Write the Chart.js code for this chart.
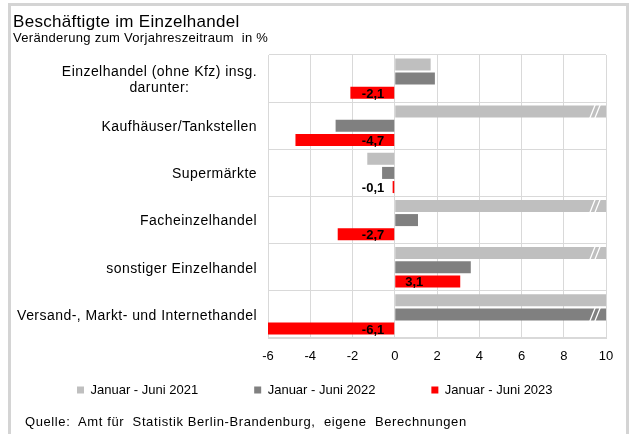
<!DOCTYPE html>
<html><head><meta charset="utf-8">
<script src="https://cdn.jsdelivr.net/npm/chart.js@4/dist/chart.umd.min.js"></script>
<style>
html,body{margin:0;padding:0;background:#fff;}
#wrap{position:relative;width:634px;height:434px;overflow:hidden;font-family:"Liberation Sans",Arial,sans-serif;color:#000;}
#frame{position:absolute;left:8px;top:3px;width:615px;height:500px;border:3px solid #d4d4d4;border-bottom:none;}
canvas{position:absolute;left:0;top:0;}
.t{position:absolute;white-space:pre;}
</style></head><body>
<div id="wrap">
<div id="frame"></div>
<canvas id="c" width="634" height="434"></canvas>
<div class="t" style="left:13px;top:13px;font-size:17px;line-height:17px;letter-spacing:0.3px;">Beschäftigte im Einzelhandel</div>
<div class="t" style="left:13px;top:31px;font-size:13px;line-height:13px;letter-spacing:0.3px;">Veränderung zum Vorjahreszeitraum  in %</div>
<div class="t" style="left:25px;top:415px;font-size:13px;line-height:13px;letter-spacing:0.6px;">Quelle:  Amt für  Statistik Berlin-Brandenburg,  eigene  Berechnungen</div>
</div>
<script>
const categories = [
  ["Einzelhandel (ohne Kfz) insg.", "darunter:"],
  ["Kaufhäuser/Tankstellen"],
  ["Supermärkte"],
  ["Facheinzelhandel"],
  ["sonstiger Einzelhandel"],
  ["Versand-, Markt- und Internethandel"]
];
const seriesNames = ["Januar - Juni 2021", "Januar - Juni 2022", "Januar - Juni 2023"];
// values above 10 run off the axis (shown with a break mark)
const values2021 = [1.7, 11, -1.3, 11, 11, 10];
const values2022 = [1.9, -2.8, -0.6, 1.1, 3.6, 11];
const values2023 = [-2.1, -4.7, -0.1, -2.7, 3.1, -6.1];
const xTickValues = [-6, -4, -2, 0, 2, 4, 6, 8, 10];
const seriesColors = ["#BFBFBF", "#808080", "#FF0000"];

Chart.defaults.font.family = "'Liberation Sans', Arial, sans-serif";
Chart.defaults.color = "#000";

const FONT_LBL = "14px 'Liberation Sans', Arial, sans-serif";
const FONT_VAL = "bold 13px 'Liberation Sans', Arial, sans-serif";
const LEGEND_PAD = 56;

const catLabelPlugin = {
  id: 'catLabels',
  afterDraw(chart) {
    const ctx = chart.ctx, ys = chart.scales.y;
    ctx.save();
    ctx.font = FONT_LBL;
    try { ctx.letterSpacing = '0.45px'; } catch (e) {}
    ctx.fillStyle = '#000';
    ctx.textBaseline = 'middle';
    ctx.textAlign = 'center';
    const rightX = chart.chartArea.left - 11;
    categories.forEach((lines, i) => {
      const cy = ys.getPixelForValue(i);
      const maxW = Math.max(...lines.map(l => ctx.measureText(l).width));
      lines.forEach((l, j) => {
        const y = cy + 1.5 + (j - (lines.length - 1) / 2) * 16;
        ctx.fillText(l, rightX - maxW / 2, y);
      });
    });
    ctx.restore();
  }
};

const breakPlugin = {
  id: 'breaks',
  afterDatasetsDraw(chart) {
    const ctx = chart.ctx, xs = chart.scales.x, ca = chart.chartArea;
    ctx.save();
    ctx.strokeStyle = '#fff';
    ctx.lineWidth = 1.3;
    chart.data.datasets.forEach((ds, di) => {
      const meta = chart.getDatasetMeta(di);
      ds.data.forEach((v, i) => {
        if (v > xs.max) {
          const el = meta.data[i];
          const h = el.height;
          [13.5, 8.5].forEach(dx => {
            const cx = ca.right - dx;
            ctx.beginPath();
            ctx.moveTo(cx - 3, el.y + h / 2 + 1.5);
            ctx.lineTo(cx + 3, el.y - h / 2 - 1.5);
            ctx.stroke();
          });
        }
      });
    });
    ctx.restore();
  }
};

const valueLabelPlugin = {
  id: 'valueLabels',
  afterDatasetsDraw(chart) {
    const ctx = chart.ctx;
    const meta = chart.getDatasetMeta(2);
    ctx.save();
    ctx.font = FONT_VAL;
    ctx.fillStyle = '#000';
    ctx.textBaseline = 'middle';
    values2023.forEach((v, i) => {
      const el = meta.data[i];
      const txt = v.toFixed(1).replace('.', ',');
      if (v < 0) { ctx.textAlign = 'right'; ctx.fillText(txt, el.base - 10, el.y + 1.5); }
      else { ctx.textAlign = 'left'; ctx.fillText(txt, el.base + 10, el.y + 1.5); }
    });
    ctx.restore();
  }
};

// place the legend row a fixed distance below the plot
const legendPlacePlugin = {
  id: 'legendPlace',
  afterLayout(chart) {
    const lg = chart.legend;
    if (!lg) return;
    const rowTop = chart.chartArea.bottom + 45.5;
    lg.top = rowTop - LEGEND_PAD;
    lg.bottom = rowTop + 22;
    lg.height = lg.bottom - lg.top;
  }
};

new Chart(document.getElementById('c'), {
  type: 'bar',
  data: {
    labels: categories,
    datasets: [
      { label: seriesNames[0], data: values2021, backgroundColor: seriesColors[0] },
      { label: seriesNames[1], data: values2022, backgroundColor: seriesColors[1] },
      { label: seriesNames[2], data: values2023, backgroundColor: seriesColors[2] }
    ]
  },
  options: {
    indexAxis: 'y',
    responsive: false,
    animation: false,
    events: [],
    datasets: { bar: { categoryPercentage: 0.9, barPercentage: 0.85, borderWidth: 0, clip: 0 } },
    layout: { padding: { left: 21, right: 0, top: 55, bottom: 49 } },
    scales: {
      x: {
        min: xTickValues[0], max: xTickValues[xTickValues.length - 1],
        afterBuildTicks(s) { s.ticks = xTickValues.map(v => ({ value: v })); },
        ticks: { font: { size: 13 }, color: '#000', padding: 11 },
        grid: { color: '#d9d9d9', drawTicks: false },
        border: { color: '#d9d9d9' },
        afterFit(s) { s.height = 27; s.paddingRight = 28; }
      },
      y: {
        ticks: { display: false },
        grid: { color: '#d9d9d9', drawTicks: false },
        border: { color: '#d9d9d9' },
        afterFit(s) { s.width = 247; }
      }
    },
    plugins: {
      legend: {
        position: 'bottom', align: 'start', maxHeight: 20,
        labels: { boxWidth: 7, boxHeight: 7, padding: LEGEND_PAD, font: { size: 13 }, color: '#000' }
      },
      tooltip: { enabled: false }
    }
  },
  plugins: [catLabelPlugin, breakPlugin, valueLabelPlugin, legendPlacePlugin]
});
</script>
</body></html>
